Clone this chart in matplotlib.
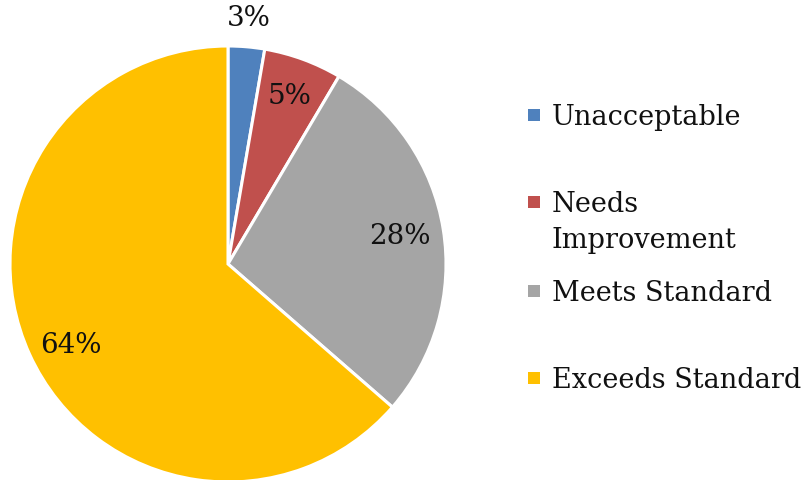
import numpy as np
import matplotlib.pyplot as plt
from matplotlib.patches import Rectangle

# Ratings share
categories = ["Unacceptable", "Needs\nImprovement", "Meets Standard", "Exceeds Standard"]
shares = [2.7, 5.8, 27.9, 63.6]
pct_labels = ["3%", "5%", "28%", "64%"]
colors = ["#4F81BD", "#C0504D", "#A5A5A5", "#FFC000"]

plt.rcParams['font.family'] = ['DejaVu Serif']

fig = plt.figure(figsize=(8.04, 4.8), dpi=100)
W, H = 804, 480
cx, cy, r = 228, 264, 218
ax = fig.add_axes([(cx - r) / W, (H - cy - r) / H, 2 * r / W, 2 * r / H])

wedges, _ = ax.pie(shares, colors=colors, startangle=90, counterclock=False,
                   radius=1.0, wedgeprops=dict(edgecolor="white", linewidth=2.2))
ax.set_xlim(-1, 1)
ax.set_ylim(-1, 1)
ax.set_aspect("equal")
ax.axis("off")

# label positions: fraction of radius and small angle nudge (degrees)
label_r = [1.13, 0.82, 0.80, 0.81]
label_da = [0, 0, 0, 3]
for w, lab, lr, da in zip(wedges, pct_labels, label_r, label_da):
    ang = np.deg2rad((w.theta1 + w.theta2) / 2 + da)
    ax.text(lr * np.cos(ang), lr * np.sin(ang), lab, ha="center", va="center",
            fontsize=20, color="#111111")

# legend drawn by hand (markers evenly spaced, two-line entry hangs below)
marker_y = [115, 202, 291, 378]
line_h = 36
for cat, col, my in zip(categories, colors, marker_y):
    fig.patches.append(Rectangle(((528) / W, (H - my - 6) / H), 12 / W, 12 / H,
                                 transform=fig.transFigure, facecolor=col,
                                 edgecolor="none"))
    for i, line in enumerate(cat.split("\n")):
        fig.text(552 / W, (H - my - 10 - i * line_h) / H, line, ha="left",
                 va="baseline", fontsize=19.5, color="#111111")

fig.savefig("out.png", dpi=100)
